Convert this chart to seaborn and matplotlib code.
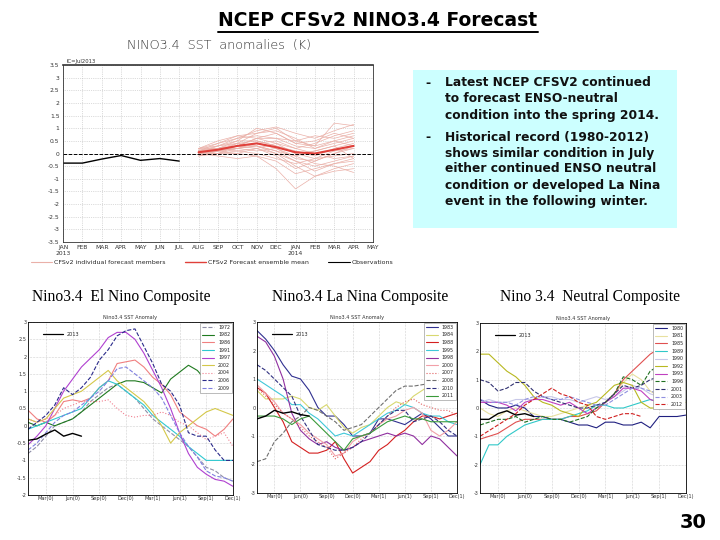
import numpy as np
import matplotlib
matplotlib.use("Agg")
import matplotlib.pyplot as plt
from matplotlib.lines import Line2D
from matplotlib.patches import Rectangle
import seaborn as sns

sns.set_theme(style="white")
plt.rcParams['font.family'] = ['DejaVu Sans']

# ---------------- data: top forecast chart ----------------
top_months = ["JAN\n2013", "FEB", "MAR", "APR", "MAY", "JUN", "JUL", "AUG", "SEP",
              "OCT", "NOV", "DEC", "JAN\n2014", "FEB", "MAR", "APR", "MAY"]
obs_2013 = [-0.38, -0.38, -0.22, -0.08, -0.27, -0.20, -0.30]          # JAN..JUL 2013
fcst_mean = [0.05, 0.15, 0.30, 0.40, 0.25, 0.05, 0.00, 0.15, 0.30]   # AUG 2013..APR 2014
fcst_members = [
    [0.10, 0.30, 0.60, 0.90, 1.05, 0.80, 0.60, 0.90, 1.15],
    [0.00, 0.20, 0.50, 1.00, 0.80, 0.40, 0.30, 1.20, 1.10],
    [0.20, 0.40, 0.70, 0.80, 1.00, 0.50, 0.70, 0.60, 0.80],
    [-0.10, 0.00, 0.10, 0.20, 0.00, -0.50, -0.90, -0.70, -0.60],
    [0.10, 0.10, 0.00, -0.10, -0.60, -1.40, -0.90, -0.60, -0.40],
    [0.00, -0.10, -0.20, -0.10, -0.30, -0.80, -0.60, -0.40, -0.30],
    [0.20, 0.30, 0.40, 0.50, 0.30, 0.00, 0.10, 0.30, 0.50],
    [0.10, 0.20, 0.30, 0.40, 0.20, -0.20, -0.30, 0.00, 0.30],
    [-0.10, 0.10, 0.30, 0.60, 0.60, 0.30, 0.20, 0.40, 0.60],
    [0.00, 0.00, 0.20, 0.30, 0.00, -0.30, -0.50, -0.30, -0.10],
    [0.20, 0.50, 0.70, 0.60, 0.40, 0.20, 0.40, 0.70, 0.90],
    [0.10, 0.20, 0.10, 0.00, -0.20, -0.40, -0.20, -0.10, 0.00],
    [0.00, 0.30, 0.50, 0.50, 0.30, 0.10, -0.10, 0.20, 0.40],
    [0.15, 0.10, 0.20, 0.40, 0.50, 0.20, 0.00, -0.20, -0.10],
    [-0.05, 0.00, 0.30, 0.20, -0.10, -0.60, -0.30, 0.00, 0.20],
    [0.10, 0.40, 0.60, 0.70, 0.60, 0.50, 0.30, 0.50, 0.30],
    [0.00, 0.10, 0.20, 0.10, 0.20, -0.10, 0.10, 0.30, -0.20],
    [0.20, 0.20, 0.40, 0.30, 0.10, -0.10, -0.40, -0.50, -0.75],
    [0.05, 0.20, 0.30, 0.60, 0.80, 0.40, 0.50, 0.80, 0.60],
    [0.10, 0.00, 0.00, 0.20, 0.40, 0.00, -0.20, 0.10, 0.20],
    [0.00, 0.10, 0.40, 0.80, 0.90, 0.60, 0.20, 0.50, 0.70],
    [0.10, 0.20, 0.20, 0.30, 0.10, -0.30, -0.70, -0.40, -0.20],
]

# ---------------- data: composites (Jan(0) .. Dec(1)) ----------------
comp_ticklabels = ["Mar(0)", "Jun(0)", "Sep(0)", "Dec(0)", "Mar(1)", "Jun(1)", "Sep(1)", "Dec(1)"]
obs_year = "2013"

elnino_years = ["1972", "1982", "1986", "1991", "1997", "2002", "2004", "2006", "2009"]
elnino_vals = [
    [-0.8, -0.6, -0.3, 0.0, 0.1, 0.2, 0.4, 0.7, 0.9, 1.1, 1.2, 1.0, 0.8, 0.5, 0.2, 0.0, -0.2, -0.4, -0.6, -0.9, -1.2, -1.3, -1.5, -1.6],
    [0.1, 0.0, 0.1, 0.0, 0.1, 0.2, 0.4, 0.6, 0.8, 1.0, 1.2, 1.3, 1.3, 1.25, 1.1, 0.95, 1.35, 1.55, 1.75, 1.6, 1.3, 1.1, 1.0],
    [0.45, 0.2, 0.1, 0.3, 0.7, 0.75, 0.7, 0.8, 1.1, 1.3, 1.8, 1.85, 1.9, 1.7, 1.4, 1.2, 0.9, 0.4, 0.2, 0.0, -0.1, -0.3, -0.1, 0.2],
    [-0.1, 0.0, 0.1, 0.2, 0.3, 0.4, 0.5, 0.8, 1.1, 1.3, 1.2, 1.0, 0.8, 0.6, 0.3, 0.1, -0.1, -0.3, -0.6, -0.8, -1.0, -1.0, -1.0, -1.0],
    [-0.55, -0.3, 0.0, 0.5, 1.0, 1.35, 1.7, 1.95, 2.2, 2.55, 2.7, 2.7, 2.5, 2.1, 1.6, 1.1, 0.5, -0.2, -0.8, -1.2, -1.4, -1.55, -1.6, -1.75],
    [0.2, 0.1, 0.2, 0.5, 0.8, 0.9, 1.0, 1.2, 1.4, 1.6, 1.3, 1.1, 0.9, 0.7, 0.4, 0.0, -0.5, -0.2, 0.0, 0.2, 0.4, 0.5, 0.4, 0.3],
    [0.2, 0.1, 0.2, 0.3, 0.5, 0.6, 0.7, 0.7, 0.7, 0.75, 0.5, 0.3, 0.25, 0.3, 0.3, 0.4, 0.3, 0.1, 0.0, -0.2, -0.4, -0.3, -0.2, -0.6],
    [-0.1, 0.1, 0.3, 0.6, 1.1, 0.9, 1.1, 1.4, 1.9, 2.2, 2.6, 2.75, 2.8, 2.3, 1.8, 1.2, 1.0, 0.6, -0.2, -0.3, -0.3, -0.7, -1.0, -1.0],
    [-0.7, -0.5, -0.2, 0.1, 0.3, 0.4, 0.6, 0.8, 1.0, 1.3, 1.65, 1.7, 1.5, 1.3, 1.1, 0.8, 0.3, -0.2, -0.6, -0.9, -1.3, -1.45, -1.5, -1.6],
]
elnino_obs = [-0.42, -0.38, -0.24, -0.12, -0.30, -0.22, -0.30]

lanina_years = ["1983", "1984", "1988", "1995", "1998", "2000", "2007", "2008", "2010", "2011"]
lanina_vals = [
    [2.7, 2.4, 2.0, 1.5, 1.1, 1.0, 0.6, 0.0, -0.3, -0.3, -0.6, -1.0, -1.0, -0.9, -0.4, -0.4, -0.5, -0.6, -0.4, -0.2, -0.4, -0.7, -1.0, -1.0],
    [0.6, 0.3, 0.3, 0.3, 0.4, 0.3, 0.0, -0.1, 0.1, -0.3, -0.7, -0.9, -0.7, -0.6, -0.3, 0.0, 0.2, 0.1, 0.4, 0.6, 0.8],
    [0.7, 0.5, 0.0, -0.5, -1.2, -1.4, -1.6, -1.6, -1.5, -1.2, -1.8, -2.3, -2.1, -1.9, -1.5, -1.3, -1.0, -0.8, -0.5, -0.3, -0.3, -0.4, -0.3, -0.2],
    [1.0, 0.8, 0.6, 0.4, 0.1, 0.1, -0.2, -0.4, -0.7, -1.0, -0.9, -1.0, -0.8, -0.6, -0.4, -0.2, -0.1, 0.1, 0.0, -0.2, -0.3, -0.3, -0.5, -0.6],
    [2.5, 2.3, 1.8, 1.0, -0.2, -0.8, -1.1, -1.3, -1.2, -1.4, -1.5, -1.4, -1.2, -1.1, -1.0, -0.9, -1.0, -0.9, -1.0, -1.3, -1.0, -1.1, -1.4, -1.7],
    [0.8, 0.5, 0.2, -0.2, -0.4, -0.6, -0.9, -1.1, -1.3, -1.7, -1.6, -1.2, -1.0, -0.9, -0.6, -0.4, -0.3, -0.1, 0.0, -0.2, -0.8, -1.0, -0.8, -0.5],
    [0.7, 0.4, 0.1, -0.2, -0.4, -0.7, -1.0, -1.2, -1.4, -1.8, -1.6, -1.4, -1.1, -0.9, -0.6, -0.3, 0.0, 0.2, 0.3, 0.1, 0.0, -0.1, -0.1, -0.3],
    [-1.9, -1.8, -1.2, -0.9, -0.5, -0.3, 0.0, -0.1, -0.3, -0.5, -0.8, -0.7, -0.6, -0.3, 0.0, 0.3, 0.6, 0.75, 0.75, 0.8, 0.85],
    [1.5, 1.3, 1.0, 0.7, 0.4, -0.3, -0.8, -1.3, -1.4, -1.5, -1.5, -1.4, -1.2, -0.9, -0.6, -0.3, -0.1, -0.1, -0.5, -0.4, -0.3, -0.5, -0.8, -1.0],
    [-0.3, -0.3, -0.3, -0.4, -0.6, -0.4, -0.3, -0.6, -0.9, -1.2, -1.5, -1.1, -1.0, -0.9, -0.7, -0.5, -0.4, -0.3, -0.4, -0.4, -0.5, -0.5, -0.5, -0.5],
]
lanina_obs = [-0.40, -0.30, -0.10, -0.20, -0.15, -0.25, -0.30]

neutral_years = ["1980", "1981", "1985", "1989", "1990", "1992", "1993", "1996", "2001", "2003", "2012"]
neutral_vals = [
    [0.3, 0.1, 0.0, 0.0, 0.1, 0.0, -0.3, -0.3, -0.4, -0.4, -0.5, -0.6, -0.6, -0.7, -0.5, -0.5, -0.6, -0.6, -0.5, -0.7, -0.3, -0.3, -0.3, -0.25],
    [0.0, -0.2, -0.3, -0.1, 0.0, -0.1, -0.2, -0.3, -0.3, -0.2, -0.1, 0.0, 0.1, 0.0, 0.2, 0.5, 0.9, 1.2, 1.0, 0.6, 0.4, 0.3, 0.2, 0.3],
    [-1.1, -1.0, -0.9, -0.7, -0.5, -0.4, -0.4, -0.4, -0.4, -0.4, -0.3, -0.3, -0.2, -0.1, 0.2, 0.5, 1.0, 1.3, 1.6, 1.9, 2.1, 2.2],
    [-2.0, -1.3, -1.3, -1.0, -0.8, -0.6, -0.5, -0.4, -0.4, -0.4, -0.3, -0.2, -0.1, 0.1, 0.1, 0.0, 0.0, 0.1, 0.2, 0.3, 0.2, 0.3, 0.2, 0.3],
    [0.2, 0.3, 0.2, 0.2, 0.3, 0.3, 0.3, 0.4, 0.4, 0.3, 0.3, 0.2, 0.3, 0.4, 0.3, 0.4, 0.6, 0.8, 0.7, 0.5, 0.4, 0.3, 0.3, 0.3],
    [1.9, 1.9, 1.6, 1.3, 1.1, 0.8, 0.4, 0.2, 0.1, -0.1, -0.2, -0.3, 0.1, 0.2, 0.5, 0.8, 0.9, 0.8, 0.2, 0.0, 0.0, 0.1, 0.2, 0.2],
    [0.2, 0.2, 0.2, 0.1, -0.1, 0.2, 0.3, 0.3, 0.2, 0.1, 0.2, 0.0, -0.2, 0.0, 0.2, 0.4, 0.7, 0.7, 0.6, 0.3, 0.2],
    [-0.6, -0.5, -0.4, -0.4, -0.3, -0.5, -0.4, -0.3, -0.4, -0.4, -0.5, -0.4, -0.3, 0.0, 0.2, 0.5, 1.1, 1.0, 0.8, 1.3, 1.5],
    [1.0, 0.9, 0.6, 0.7, 0.9, 0.9, 0.6, 0.4, 0.3, 0.2, 0.1, 0.0, 0.0, 0.1, 0.2, 0.5, 0.8, 0.7, 0.8, 1.0, 1.1],
    [0.3, 0.2, 0.2, 0.2, 0.1, 0.3, 0.4, 0.4, 0.3, 0.3, 0.4, 0.3, 0.2, 0.1, 0.1, 0.3, 0.5, 0.7, 0.7, 0.6, 0.5, 0.4, 0.4, 0.4],
    [-1.0, -0.8, -0.6, -0.4, -0.2, 0.1, 0.3, 0.5, 0.7, 0.5, 0.4, 0.2, 0.1, -0.3, -0.4, -0.3, -0.2, -0.2, -0.3],
]
neutral_obs = [-0.40, -0.40, -0.20, -0.10, -0.25, -0.20, -0.30]

bullets = [
    ["Latest NCEP CFSV2 continued", "to forecast ENSO-neutral", "condition into the spring 2014."],
    ["Historical record (1980-2012)", "shows similar condition in July", "either continued ENSO neutral",
     "condition or developed La Nina", "event in the following winter."],
]

# ---------------- styles ----------------
elnino_styles = [("#8f8fa8", "--"), ("#1f7a1f", "-"), ("#f08080", "-"), ("#30c8d0", "-"), ("#b040d0", "-"),
                 ("#d4c84a", "-"), ("#f08090", ":"), ("#2a2a8a", "--"), ("#8080e0", "--")]
lanina_styles = [("#303090", "-"), ("#d8d870", "-"), ("#d42020", "-"), ("#40c8d8", "-"), ("#9030a0", "-"),
                 ("#f2a0a8", "-"), ("#e06060", ":"), ("#707070", "--"), ("#303080", "--"), ("#3a9a3a", "-")]
neutral_styles = [("#202080", "-"), ("#e8e0a0", "-"), ("#e05050", "-"), ("#30c8c8", "-"), ("#c8c8e8", "-"),
                  ("#b8b820", "-"), ("#c040c0", "-"), ("#207020", "--"), ("#303070", "--"), ("#9090e0", "--"),
                  ("#d02020", "--")]

W, H = 720, 540
fig = plt.figure(figsize=(7.2, 5.4), dpi=100)
fig.patch.set_facecolor("white")


def fx(px):
    return px / W


def fy(py):
    return 1 - py / H


# ---------------- title ----------------
title = fig.text(fx(378), fy(20), "NCEP CFSv2 NINO3.4 Forecast", ha="center", va="center",
                 fontsize=13.5, fontweight="bold", color="black")
fig.canvas.draw()
bb = title.get_window_extent(fig.canvas.get_renderer())
fig.add_artist(Line2D([bb.x0 / W, bb.x1 / W], [bb.y0 / H - 0.004, bb.y0 / H - 0.004],
                      color="black", lw=1.4, transform=fig.transFigure))

# ---------------- top chart ----------------
ax = fig.add_axes([fx(63), fy(242), fx(310), 177 / H])
xm = np.arange(len(top_months))
ax.set_xlim(0, len(top_months) - 1)
ax.set_ylim(-3.5, 3.5)
yt = np.arange(-3.5, 3.51, 0.5)
ax.set_yticks(yt)
ax.set_yticklabels([f"{v:g}" for v in yt])
ax.set_xticks(xm)
ax.set_xticklabels(top_months)
ax.tick_params(labelsize=4.3, length=1.5, pad=1, colors="#333333")
ax.grid(True, ls=":", lw=0.5, color="#bbbbbb")
for s in ax.spines.values():
    s.set_linewidth(0.6)
    s.set_color("#333333")
ax.spines["top"].set_linewidth(1.2)

fc_x = xm[7:7 + len(fcst_mean)]
for mem in fcst_members:
    sns.lineplot(x=fc_x, y=mem, ax=ax, color="#eab0a8", lw=0.5, legend=False)
sns.lineplot(x=fc_x, y=fcst_mean, ax=ax, color="#e0403a", lw=1.5, legend=False)
sns.lineplot(x=xm[:len(obs_2013)], y=obs_2013, ax=ax, color="black", lw=1.0, legend=False)
ax.axhline(0, color="black", lw=0.7, ls="--")
ax.text(0.01, 1.005, "IC=Jul2013", transform=ax.transAxes, fontsize=3.8, va="bottom", color="#333333")
fig.text(fx(219), fy(45), "NINO3.4  SST  anomalies  (K)", ha="center", va="center",
         fontsize=9.2, color="#333333", fontweight="light")

top_handles = [Line2D([], [], color="#eab0a8", lw=0.8), Line2D([], [], color="#e0403a", lw=1.0),
               Line2D([], [], color="black", lw=0.8)]
fig.legend(top_handles, ["CFSv2 individual forecast members", "CFSv2 Forecast ensemble mean", "Observations"],
           loc="center", bbox_to_anchor=(fx(212), fy(262)), ncol=3, fontsize=4.5, frameon=False,
           handlelength=3.5, columnspacing=3, handletextpad=0.3)

# ---------------- text box ----------------
fig.add_artist(Rectangle((fx(413), fy(228)), fx(264), 158 / H, transform=fig.transFigure,
                         facecolor="#ccffff", edgecolor="none", zorder=0))
line_y = 83
for para in bullets:
    fig.text(fx(425), fy(line_y), "-", fontsize=9, fontweight="bold", va="center", color="#111111")
    for ln in para:
        fig.text(fx(445), fy(line_y), ln, fontsize=8.8, fontweight="bold", va="center", color="#111111")
        line_y += 16
    line_y += 6


# ---------------- composites ----------------
def composite(rect, years, vals, styles, obs, ylim, ystep, label, label_x):
    cax = fig.add_axes(rect)
    months = np.arange(24)
    lines = []
    for yr, v, (c, ls) in zip(years, vals, styles):
        sns.lineplot(x=months[:len(v)], y=v, ax=cax, color=c, lw=0.8, linestyle=ls, legend=False)
        lines.append(Line2D([], [], color=c, lw=0.8, ls=ls))
    sns.lineplot(x=months[:len(obs)], y=obs, ax=cax, color="black", lw=1.0, legend=False)
    cax.set_xlim(0, 23)
    cax.set_ylim(*ylim)
    cax.set_xticks([2, 5, 8, 11, 14, 17, 20, 23])
    cax.set_xticklabels(comp_ticklabels)
    yt = np.arange(ylim[0], ylim[1] + 0.01, ystep)
    cax.set_yticks(yt)
    cax.set_yticklabels([f"{v:g}" for v in yt])
    cax.tick_params(labelsize=3.6, length=1.5, pad=1, colors="#333333", direction="in")
    cax.grid(True, ls=":", lw=0.4, color="#aaaaaa")
    for s in cax.spines.values():
        s.set_linewidth(0.6)
        s.set_color("black")
    cax.set_title("Nino3.4 SST Anomaly", fontsize=3.6, pad=2, color="#333333")
    leg = cax.legend(lines, years, loc="upper right", fontsize=3.4, handlelength=2.6,
                     labelspacing=0.55, borderpad=0.4, fancybox=False, edgecolor="#888888",
                     framealpha=1, borderaxespad=0.2)
    leg.get_frame().set_linewidth(0.4)
    cax.add_artist(leg)
    cax.legend([Line2D([], [], color="black", lw=0.9)], [obs_year], loc="upper left", fontsize=3.6,
               frameon=False, handlelength=4, bbox_to_anchor=(0.05, 0.97))
    fig.text(fx(label_x), fy(297), label, ha="center", va="center", fontsize=11.2,
             family="Liberation Serif", color="black")


composite([fx(28), fy(495), fx(205), 173 / H], elnino_years, elnino_vals, elnino_styles, elnino_obs,
          (-2, 3), 0.5, "Nino3.4  El Nino Composite", 121)
composite([fx(257), fy(493), fx(200), 171 / H], lanina_years, lanina_vals, lanina_styles, lanina_obs,
          (-3, 3), 1, "Nino3.4 La Nina Composite", 360)
composite([fx(480), fy(493), fx(206), 170 / H], neutral_years, neutral_vals, neutral_styles, neutral_obs,
          (-3, 3), 1, "Nino 3.4  Neutral Composite", 590)

fig.text(fx(693), fy(522), "30", ha="center", va="center", fontsize=14, fontweight="bold", color="black")

fig.savefig("out.png", dpi=100, facecolor="white")
